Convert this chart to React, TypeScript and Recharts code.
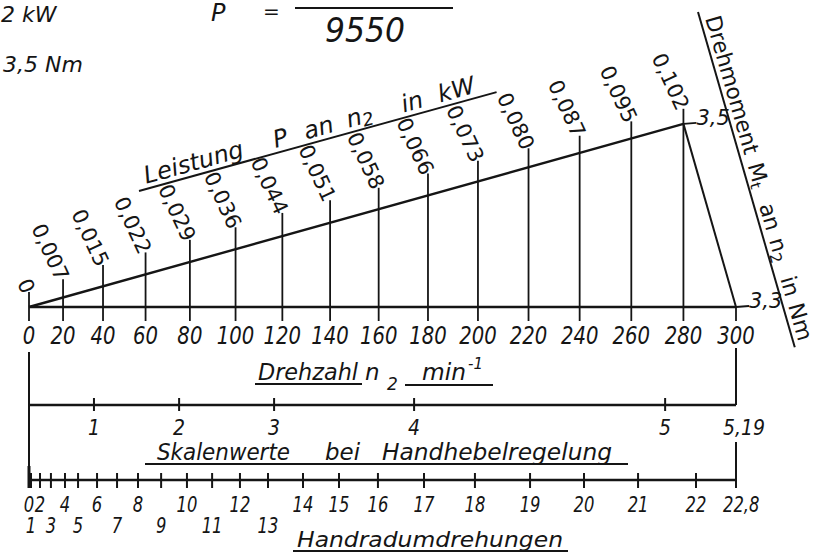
import React from "react";
import {
  ComposedChart,
  Line,
  Scatter,
  XAxis,
  YAxis,
  ReferenceLine,
  Customized,
} from "recharts";

// n2 scale in min^-1
const speedTicks = [0, 20, 40, 60, 80, 100, 120, 140, 160, 180, 200, 220, 240, 260, 280, 300];
// P in kW written at the speed ticks 0 ... 280
const powerValues = [0, 0.007, 0.015, 0.022, 0.029, 0.036, 0.044, 0.051, 0.058, 0.066, 0.073, 0.08, 0.087, 0.095, 0.102];
// Mt in Nm at both ends of the torque scale
const torqueSpeeds = [280, 300];
const torqueValues = [3.5, 3.3];
// hand lever scale: values and the speed they sit under
const leverValues = [0, 1, 2, 3, 4, 5, 5.19];
const leverSpeeds = [0, 35.6, 75.2, 116.5, 174.4, 273.0, 300];
// hand wheel turns and the speed they sit under
const wheelValues = [0, 1, 2, 3, 4, 5, 6, 7, 8, 9, 10, 11, 12, 13, 14, 15, 16, 17, 18, 19, 20, 21, 22, 22.8];
const wheelSpeeds = [0, 1.6, 7.3, 13.5, 21.0, 27.7, 37.1, 46.7, 56.5, 67.1, 78.7, 89.8, 101.9, 113.9, 128.7, 143.7, 159.7, 178.4, 198.8, 220.6, 241.7, 262.6, 284.8, 300];

const INK = "#151515";
const FONT = "'DejaVu Sans', 'Liberation Sans', sans-serif";
const RISE = 0.0084; // tick overshoot above the power line, kW

const comma = (v: number, digits = 0) => v.toFixed(digits).replace(".", ",");

// the hand drawn speed scale is slightly progressive: a power scale fits it
function powerScale(exponent: number): any {
  let dom: number[] = [0, 1];
  let rng: number[] = [0, 1];
  const scale: any = (value: any) => {
    const span = dom[1] - dom[0] || 1;
    const t = (Number(value) - dom[0]) / span;
    const s = t < 0 ? -Math.pow(-t, exponent) : Math.pow(t, exponent);
    return rng[0] + s * (rng[1] - rng[0]);
  };
  scale.domain = (...args: any[]) => {
    if (!args.length) return dom.slice();
    dom = Array.from(args[0] as any[], Number);
    return scale;
  };
  scale.range = (...args: any[]) => {
    if (!args.length) return rng.slice();
    rng = Array.from(args[0] as any[], Number);
    return scale;
  };
  scale.invert = (px: number) => {
    const u = (px - rng[0]) / (rng[1] - rng[0] || 1);
    const t = u < 0 ? -Math.pow(-u, 1 / exponent) : Math.pow(u, 1 / exponent);
    return dom[0] + t * (dom[1] - dom[0]);
  };
  scale.ticks = (count = 10) => {
    const out: number[] = [];
    for (let i = 0; i <= count; i++) out.push(dom[0] + ((dom[1] - dom[0]) * i) / count);
    return out;
  };
  scale.tickFormat = () => (v: any) => String(v);
  scale.nice = () => scale;
  scale.clamp = () => scale;
  scale.copy = () => powerScale(exponent).domain(dom).range(rng);
  return scale;
}

const speedScale = powerScale(1.12);

const powerRows = powerValues.map((p, i) => ({
  n: speedTicks[i],
  p,
  top: p + RISE,
  label: i === 0 ? "0" : comma(p, 3),
}));
const powerLine = [powerRows[0], powerRows[powerRows.length - 1]];
const torqueRows = torqueSpeeds.map((n, i) => ({
  n,
  p: i === 0 ? powerValues[powerValues.length - 1] : 0,
  label: comma(torqueValues[i], 1),
}));

const SpeedTick = (props: any) => {
  const { x, y, payload } = props;
  return (
    <text
      transform={`translate(${x},${y + 21}) scale(0.82,1)`}
      textAnchor="middle"
      fontSize={24}
      fontStyle="italic"
      fontFamily={FONT}
      fill={INK}
    >
      {payload.value}
    </text>
  );
};

const LeverTick = (props: any) => {
  const { x, y, payload } = props;
  const i = leverSpeeds.indexOf(payload.value);
  const v = leverValues[i];
  const stroke = { stroke: INK, strokeWidth: 2 };
  if (i === 0) return <line x1={x} y1={y - 53} x2={x} y2={y + 83} {...stroke} />;
  const last = i === leverValues.length - 1;
  const label = Number.isInteger(v) ? String(v) : comma(v, 2);
  return (
    <g>
      {last ? (
        <>
          <line x1={x} y1={y - 57} x2={x} y2={y} {...stroke} />
          <line x1={x} y1={y + 37} x2={x} y2={y + 75} {...stroke} />
        </>
      ) : (
        <line x1={x} y1={y - 7} x2={x} y2={y + 6} {...stroke} />
      )}
      <text
        transform={`translate(${last ? x - 13 : x},${y + 30}) scale(0.9,1)`}
        textAnchor={last ? "start" : "middle"}
        fontSize={21}
        fontStyle="italic"
        fontFamily={FONT}
        fill={INK}
      >
        {label}
      </text>
    </g>
  );
};

const WheelTick = (props: any) => {
  const { x, y, payload } = props;
  const i = wheelSpeeds.indexOf(payload.value);
  const v = wheelValues[i];
  const last = i === wheelValues.length - 1;
  const lower = v % 2 === 1 && v <= 13;
  const label = Number.isInteger(v) ? String(v) : comma(v, 1);
  return (
    <g>
      <line
        x1={x}
        y1={i === 0 ? y - 14 : y - 7}
        x2={x}
        y2={y + 8}
        stroke={INK}
        strokeWidth={i === 0 ? 3 : 2}
      />
      <text
        transform={`translate(${last ? x - 13 : x},${y + (lower ? 53 : 32)}) scale(0.78,1)`}
        textAnchor={last ? "start" : "middle"}
        fontSize={21}
        fontStyle="italic"
        fontFamily={FONT}
        fill={INK}
      >
        {label}
      </text>
    </g>
  );
};

const PowerLabel = (props: any) => {
  const { cx, cy, payload } = props;
  return (
    <text
      transform={`translate(${cx},${cy}) rotate(65)`}
      textAnchor="end"
      dy="0.35em"
      fontSize={21}
      fontFamily={FONT}
      fill={INK}
    >
      {payload.label}
    </text>
  );
};

const TorqueLabel = (props: any) => {
  const { cx, cy, payload } = props;
  return (
    <g>
      <line x1={cx} y1={cy} x2={cx + 13} y2={cy - 1} stroke={INK} strokeWidth={1.8} />
      <text x={cx + 13} y={cy + 1} fontSize={21} fontStyle="italic" fontFamily={FONT} fill={INK}>
        {payload.label}
      </text>
    </g>
  );
};

function Annotations() {
  const it = { fontStyle: "italic" as const };
  return (
    <g fontFamily={FONT} fill={INK} stroke="none">
      <text x={1} y={22} fontSize={22} {...it}>2 kW</text>
      <text x={3} y={72} fontSize={22} {...it}>3,5 Nm</text>

      <text x={211} y={21} fontSize={24} {...it}>P</text>
      <text x={263} y={18} fontSize={20}>=</text>
      <line x1={295} y1={8} x2={453} y2={8} stroke={INK} strokeWidth={2} />
      <text x={325} y={42} fontSize={33} textLength={80} lengthAdjust="spacingAndGlyphs" {...it}>9550</text>

      <g transform="translate(139,191) rotate(-15.46)">
        <line x1={0} y1={0} x2={371} y2={0} stroke={INK} strokeWidth={2} />
        <text y={-5} fontSize={24} {...it}>
          <tspan x={9}>Leistung</tspan>
          <tspan x={143}>P</tspan>
          <tspan x={175}>an</tspan>
          <tspan x={219}>n</tspan>
          <tspan fontSize={18} dy={3}>2</tspan>
          <tspan x={276} dy={-3}>in</tspan>
          <tspan x={314}>kW</tspan>
        </text>
      </g>

      <g transform="translate(698,12) rotate(73.9)">
        <line x1={0} y1={0} x2={349} y2={0} stroke={INK} strokeWidth={2} />
        <text y={-5} fontSize={22}>
          <tspan x={8} textLength={143} lengthAdjust="spacingAndGlyphs">Drehmoment</tspan>
          <tspan x={161}>M</tspan>
          <tspan fontSize={15} dy={3}>t</tspan>
          <tspan x={203} dy={-3}>an</tspan>
          <tspan x={239}>n</tspan>
          <tspan fontSize={16} dy={4}>2</tspan>
          <tspan x={279} dy={-4}>in</tspan>
          <tspan x={307}>Nm</tspan>
        </text>
      </g>

      <text x={258} y={380} fontSize={23} textLength={100} lengthAdjust="spacingAndGlyphs" {...it}>Drehzahl</text>
      <line x1={255} y1={384} x2={362} y2={384} stroke={INK} strokeWidth={2} />
      <text x={365} y={380} fontSize={23} {...it}>n</text>
      <text x={387} y={390} fontSize={17} {...it}>2</text>
      <line x1={405} y1={385} x2={493} y2={385} stroke={INK} strokeWidth={2} />
      <text x={422} y={380} fontSize={23} textLength={44} lengthAdjust="spacingAndGlyphs" {...it}>min</text>
      <text x={468} y={369} fontSize={15} {...it}>-1</text>

      <text y={460} fontSize={23} {...it}>
        <tspan x={157} textLength={133} lengthAdjust="spacingAndGlyphs">Skalenwerte</tspan>
        <tspan x={325} textLength={35} lengthAdjust="spacingAndGlyphs">bei</tspan>
        <tspan x={382} textLength={230} lengthAdjust="spacingAndGlyphs">Handhebelregelung</tspan>
      </text>
      <line x1={145} y1={464} x2={628} y2={464} stroke={INK} strokeWidth={2} />

      <text x={297} y={547} fontSize={22} textLength={266} lengthAdjust="spacingAndGlyphs" {...it}>Handradumdrehungen</text>
      <line x1={293} y1={551} x2={568} y2={551} stroke={INK} strokeWidth={2} />
    </g>
  );
}

export default function App() {
  const axisLine = { stroke: INK, strokeWidth: 2.4 };
  return (
    <div style={{ position: "absolute", left: 0, top: 0, width: 817, height: 553, background: "#fff" }}>
      <ComposedChart width={817} height={553} margin={{ top: 0, right: 81, bottom: 0, left: 29 }}>
        <XAxis
          xAxisId="a_speed"
          dataKey="n"
          type="number"
          domain={[0, 300]}
          scale={speedScale}
          ticks={speedTicks}
          interval={0}
          height={98}
          axisLine={axisLine}
          tickLine={{ stroke: INK, strokeWidth: 1.8 }}
          tickSize={14}
          tickMargin={2}
          tick={SpeedTick}
        />
        <XAxis
          xAxisId="b_lever"
          dataKey="n"
          type="number"
          domain={[0, 300]}
          allowDataOverflow
          scale={speedScale}
          ticks={leverSpeeds}
          interval={0}
          height={75}
          axisLine={axisLine}
          tickLine={false}
          tickSize={0}
          tickMargin={0}
          tick={LeverTick}
        />
        <XAxis
          xAxisId="c_wheel"
          dataKey="n"
          type="number"
          domain={[0, 300]}
          allowDataOverflow
          scale={speedScale}
          ticks={wheelSpeeds}
          interval={0}
          height={73}
          axisLine={axisLine}
          tickLine={false}
          tickSize={0}
          tickMargin={0}
          tick={WheelTick}
        />
        <YAxis hide type="number" domain={[0, 0.171]} />

        {powerRows.map((r) => (
          <ReferenceLine
            key={r.n}
            xAxisId="a_speed"
            segment={[{ x: r.n, y: 0 }, { x: r.n, y: r.top }]}
            stroke={INK}
            strokeWidth={1.8}
            ifOverflow="visible"
          />
        ))}
        <Line
          xAxisId="a_speed"
          data={powerLine}
          dataKey="p"
          type="linear"
          stroke={INK}
          strokeWidth={2.4}
          dot={false}
          activeDot={false}
          isAnimationActive={false}
        />
        <Line
          xAxisId="a_speed"
          data={torqueRows}
          dataKey="p"
          type="linear"
          stroke={INK}
          strokeWidth={2}
          dot={false}
          activeDot={false}
          isAnimationActive={false}
        />
        <Scatter xAxisId="a_speed" data={powerRows} dataKey="top" shape={PowerLabel} isAnimationActive={false} />
        <Scatter xAxisId="a_speed" data={torqueRows} dataKey="p" shape={TorqueLabel} isAnimationActive={false} />
        <Customized component={Annotations} />
      </ComposedChart>
    </div>
  );
}
